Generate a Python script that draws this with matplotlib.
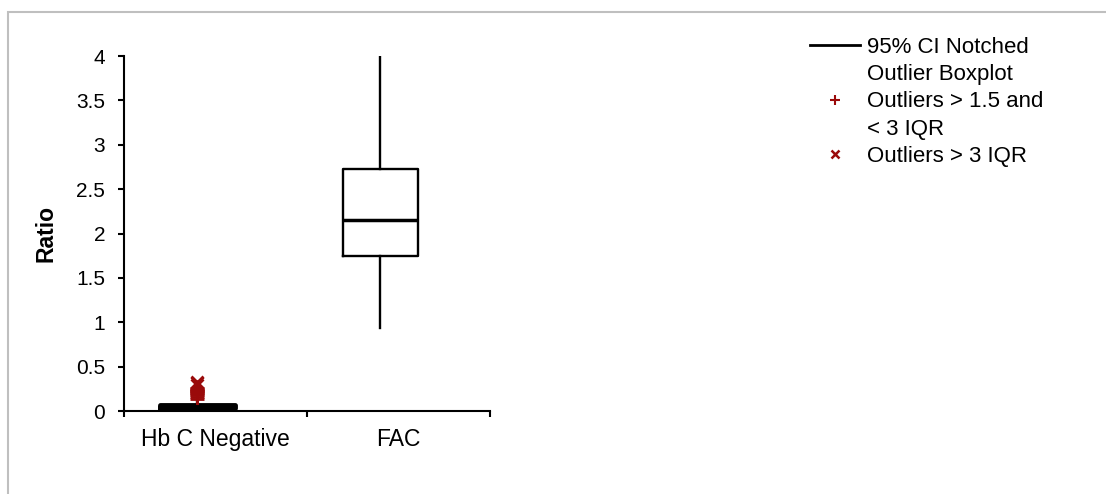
import matplotlib
matplotlib.use("Agg")
import matplotlib.pyplot as plt
from matplotlib.lines import Line2D
from matplotlib.patches import Rectangle

plt.rcParams["font.family"] = ["Liberation Sans", "DejaVu Sans"]

# Box summary per group
categories = ["Hb C Negative", "FAC"]
whisker_low = [0.0, 0.93]
q1 = [0.035, 1.75]
median = [0.05, 2.15]
q3 = [0.065, 2.73]
whisker_high = [0.12, 4.0]

# Outliers of the Hb C Negative group
mild_outliers = [0.14, 0.16, 0.18, 0.19, 0.20, 0.21, 0.22, 0.23, 0.24, 0.25, 0.26]
extreme_outliers = [0.29, 0.31, 0.33]

y_ticks = [0, 0.5, 1, 1.5, 2, 2.5, 3, 3.5, 4]
y_tick_labels = ["0", "0.5", "1", "1.5", "2", "2.5", "3", "3.5", "4"]

W, H = 1106, 494
fig = plt.figure(figsize=(W / 100, H / 100), dpi=100)
fig.patch.set_facecolor("white")

# chart-area border
fig.patches.append(Rectangle((8 / W, -0.1), 1.2, (1 - 12 / H) + 0.1,
                             transform=fig.transFigure, fill=False,
                             edgecolor="#BFBFBF", linewidth=1.5))

ax = fig.add_axes([124 / W, 1 - 411 / H, 366 / W, (411 - 56) / H])

positions = [0.4, 1.4]
box_lw = [3.5, 1.7]
median_lw = [3.5, 2.5]
for i, name in enumerate(categories):
    st = dict(label=name, whislo=whisker_low[i], q1=q1[i], med=median[i],
              q3=q3[i], whishi=whisker_high[i], fliers=[])
    ax.bxp([st], positions=[positions[i]], widths=0.41, showcaps=False, showfliers=False,
           boxprops=dict(color="black", linewidth=box_lw[i]),
           whiskerprops=dict(color="black", linewidth=1.7),
           medianprops=dict(color="black", linewidth=median_lw[i]),
           manage_ticks=False)

red = "#9A0A0A"
ax.plot([positions[0]] * len(mild_outliers), mild_outliers, linestyle="none",
        marker="+", color=red, markersize=9.5, markeredgewidth=2)
ax.plot([positions[0]] * len(extreme_outliers), extreme_outliers, linestyle="none",
        marker="x", color=red, markersize=8, markeredgewidth=2)

ax.set_xlim(0, 2)
ax.set_ylim(0, 4)
ax.set_yticks(y_ticks)
ax.set_yticklabels(y_tick_labels)
ax.set_xticks([0, 1, 2])
ax.set_xticklabels([])
ax.set_xticks([0.5, 1.5], minor=True)
ax.set_xticklabels(categories, minor=True)

for side in ("top", "right"):
    ax.spines[side].set_visible(False)
for side in ("left", "bottom"):
    ax.spines[side].set_linewidth(1.5)
    ax.spines[side].set_color("black")

ax.tick_params(axis="y", direction="out", length=4.5, width=1.5, pad=9, labelsize=15)
ax.tick_params(axis="x", which="major", direction="out", length=4.5, width=1.5)
ax.tick_params(axis="x", which="minor", length=0, pad=12, labelsize=16.5)

ax.set_ylabel("Ratio", fontsize=16.5, fontweight="bold")
ax.yaxis.set_label_coords(-0.183, 0.5)

# Legend rows: each key sits beside the first line of its label
blank = Line2D([], [], linestyle="none")
handles = [
    Line2D([], [], color="black", linewidth=2),
    blank,
    Line2D([], [], linestyle="none", marker="+", color=red, markersize=7, markeredgewidth=1.5),
    blank,
    Line2D([], [], linestyle="none", marker="x", color=red, markersize=6, markeredgewidth=1.8),
]
labels = ["95% CI Notched", "Outlier Boxplot", "Outliers > 1.5 and", "< 3 IQR", "Outliers > 3 IQR"]
leg = fig.legend(handles, labels, loc="upper left", bbox_to_anchor=(810 / W, 1 - 37 / H),
                 frameon=False, fontsize=16, handlelength=2.25, handletextpad=0.3,
                 borderpad=0, borderaxespad=0, labelspacing=0.28)

fig.savefig("out.png", dpi=100)
